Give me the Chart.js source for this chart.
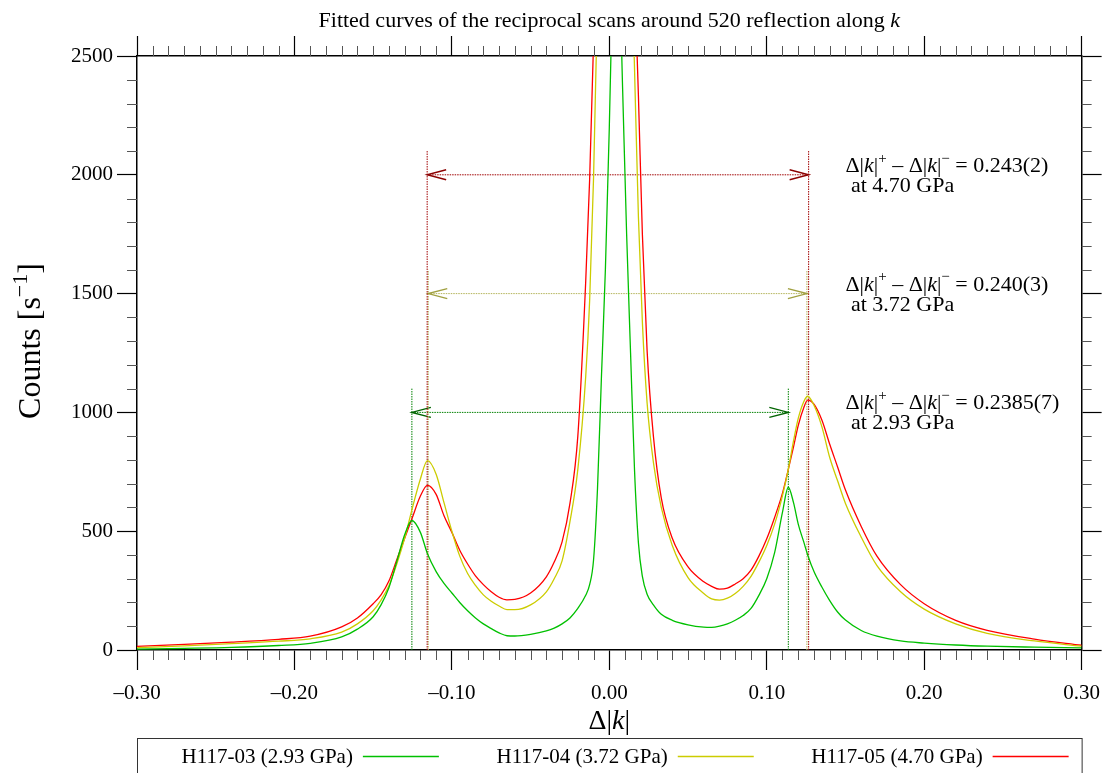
<!DOCTYPE html>
<html>
<head>
<meta charset="utf-8">
<script src="https://cdn.jsdelivr.net/npm/chart.js@4.4.0/dist/chart.umd.min.js"></script>
<style>
  html, body { margin: 0; padding: 0; background: #fff; }
</style>
</head>
<body>
<canvas id="scanChart" width="1111" height="773"></canvas>
<script>
let deltaK = [
  -0.30, -0.27, -0.24, -0.21, -0.19, -0.17, -0.16, -0.15, -0.145, -0.14,
  -0.135, -0.13, -0.1254, -0.12, -0.1155, -0.11, -0.105, -0.10, -0.095, -0.09,
  -0.085, -0.08, -0.075, -0.07, -0.065, -0.06, -0.05, -0.04, -0.035, -0.03,
  -0.025, -0.02, -0.015, -0.0125, -0.01, -0.0075, -0.005, -0.0025, 0.0, 0.0025,
  0.004, 0.006, 0.0085, 0.011, 0.0135, 0.016, 0.0185, 0.021, 0.024, 0.028,
  0.033, 0.04, 0.05, 0.06, 0.065, 0.07, 0.075, 0.08, 0.085, 0.09,
  0.095, 0.10, 0.105, 0.11, 0.1137, 0.117, 0.12, 0.1235, 0.126, 0.13,
  0.135, 0.14, 0.145, 0.15, 0.16, 0.17, 0.185, 0.20, 0.22, 0.24,
  0.27, 0.30
];

// counts per second, H117-03 (2.93 GPa)
let countsGreen = [
  4, 7, 11, 19, 28, 55, 88, 140, 190, 262,
  372, 485, 545, 495, 405, 330, 280, 240, 200, 165,
  135, 110, 90, 72, 60, 59, 66, 80, 92, 110,
  135, 175, 230, 275, 380, 680, 1150, 1600, 2200, 2900,
  3050, 2950, 2350, 1750, 1250, 760, 450, 310, 235, 190,
  150, 125, 106, 96, 95, 100, 110, 125, 145, 175,
  230, 300, 410, 580, 685, 620, 530, 455, 400, 330,
  265, 208, 160, 126, 82, 58, 38, 29, 21, 16,
  12, 9
];

// H117-04 (3.72 GPa)
let countsYellow = [
  10, 17, 27, 37, 47, 75, 110, 165, 210, 270,
  362, 470, 590, 720, 797, 740, 620, 500, 395, 322,
  272, 232, 205, 185, 170, 170, 190, 245, 300, 375,
  540, 760, 1150, 1470, 1990, 2750, 3500, 4300, 5000, 5400,
  5500, 5400, 4800, 3900, 3100, 2450, 1820, 1380, 1040, 790,
  600, 440, 305, 238, 215, 210, 218, 238, 268, 310,
  370, 440, 530, 650, 760, 880, 975, 1045, 1068, 1030,
  940, 810, 712, 617, 475, 355, 245, 172, 110, 70,
  38, 16
];

// H117-05 (4.70 GPa)
let countsRed = [
  15, 24, 33, 45, 58, 97, 135, 195, 232, 290,
  380, 470, 552, 648, 693, 655, 565, 495, 420, 362,
  312, 275, 245, 222, 211, 213, 240, 308, 370, 455,
  617, 900, 1550, 1980, 2560, 3300, 4000, 4600, 5000, 5200,
  5250, 5200, 4900, 4300, 3500, 2850, 2330, 1750, 1260, 900,
  640, 470, 350, 287, 268, 256, 260, 278, 300, 336,
  395, 468, 558, 660, 760, 855, 945, 1020, 1052, 1035,
  968, 866, 770, 673, 520, 395, 275, 195, 125, 83,
  46, 20
];

let seriesNames = ["H117-03 (2.93 GPa)", "H117-04 (3.72 GPa)", "H117-05 (4.70 GPa)"];
let pressures = ["2.93", "3.72", "4.70"];
let splitting = ["0.2385(7)", "0.240(3)", "0.243(2)"];

// satellite peak positions and the marker / arrow heights
let peakMinus = [-0.1254, -0.1150, -0.1157];
let peakPlus = [0.1137, 0.1255, 0.1266];
let markerTop = [1100, 1600, 2100];
let arrowLevel = [1000, 1500, 2000];
let labelX = 0.150;

let xTickValues = [-0.30, -0.20, -0.10, 0.00, 0.10, 0.20, 0.30];
let yTickValues = [0, 500, 1000, 1500, 2000, 2500];

let lineColors = ["#00c000", "#cccc00", "#ff0000"];
let markerColors = ["#008000", "#b4b45a", "#a00000"];
let headColors = ["#006400", "#a0a040", "#8b0000"];

const SERIF = "'Liberation Serif', 'Times New Roman', serif";

function toPoints(ys) {
  return deltaK.map((x, i) => ({ x: x, y: ys[i] }));
}

function fmtTick(v) {
  if (Math.abs(v) < 1e-9) return "0.00";
  let s = Math.abs(v).toFixed(2);
  return v < 0 ? "\u2013" + s : s;
}

// draws a row of text pieces (italic / superscript) in one go
function drawRich(ctx, parts, x, y, size, align) {
  let widths = parts.map((p) => {
    ctx.font = partFont(p, size);
    return ctx.measureText(p.t).width;
  });
  let total = widths.reduce((a, b) => a + b, 0);
  let cx = align === "center" ? x - total / 2 : x;
  ctx.textAlign = "left";
  ctx.textBaseline = "alphabetic";
  parts.forEach((p, i) => {
    ctx.font = partFont(p, size);
    ctx.fillText(p.t, cx, p.sup ? y - size * 0.42 : y);
    cx += widths[i];
  });
}

function partFont(p, size) {
  let s = p.sup ? Math.round(size * 0.68) : size;
  return (p.it ? "italic " : "") + s + "px " + SERIF;
}

let textPlugin = {
  id: "textPlugin",
  afterDraw(chart) {
    let ctx = chart.ctx;
    let xs = chart.scales.x;
    let ys = chart.scales.y;
    ctx.save();
    ctx.fillStyle = "#000";

    // title
    drawRich(ctx, [
      { t: "Fitted curves of the reciprocal scans around 520 reflection along " },
      { t: "k", it: true }
    ], (xs.left + xs.right) / 2, 27, 22, "center");

    // axis titles
    drawRich(ctx, [{ t: "\u0394|" }, { t: "k", it: true }, { t: "|" }],
      (xs.left + xs.right) / 2, 729, 28, "center");

    ctx.save();
    ctx.translate(40, 341);
    ctx.rotate(-Math.PI / 2);
    drawRich(ctx, [{ t: "Counts [s" }, { t: "\u2212", sup: true }, { t: "1", sup: true }, { t: "]" }],
      0, 0, 32, "center");
    ctx.restore();

    // splitting labels
    for (let i = 0; i < 3; i++) {
      let px = xs.getPixelForValue(labelX);
      let py = ys.getPixelForValue(arrowLevel[i]);
      drawRich(ctx, [
        { t: "\u0394|" }, { t: "k", it: true }, { t: "|" }, { t: "+", sup: true },
        { t: " \u2013 \u0394|" }, { t: "k", it: true }, { t: "|" }, { t: "\u2212", sup: true },
        { t: " = " + splitting[i] }
      ], px, py - 3, 22, "left");
      drawRich(ctx, [{ t: " at " + pressures[i] + " GPa" }], px, py + 17, 22, "left");
    }

    // legend box under the plot
    let boxTop = 738;
    ctx.strokeStyle = "#333";
    ctx.lineWidth = 1;
    ctx.strokeRect(xs.left + 0.5, boxTop + 0.5, xs.right - xs.left, 60);
    let slot = (xs.right - xs.left) / 3;
    for (let i = 0; i < 3; i++) {
      let lineEnd = xs.left + slot * (i + 1) - 13;
      let lineStart = lineEnd - 76;
      ctx.font = "21px " + SERIF;
      ctx.textAlign = "right";
      ctx.textBaseline = "alphabetic";
      ctx.fillText(seriesNames[i], lineStart - 10, boxTop + 25);
      ctx.strokeStyle = lineColors[i];
      ctx.lineWidth = 1.3;
      ctx.beginPath();
      ctx.moveTo(lineStart, boxTop + 18.5);
      ctx.lineTo(lineEnd, boxTop + 18.5);
      ctx.stroke();
    }
    ctx.restore();
  }
};

// dotted peak markers with double-headed arrows
let markerPlugin = {
  id: "markerPlugin",
  beforeDatasetsDraw(chart) {
    let ctx = chart.ctx;
    let xs = chart.scales.x;
    let ys = chart.scales.y;
    ctx.save();
    for (let i = 0; i < 3; i++) {
      let xl = xs.getPixelForValue(peakMinus[i]);
      let xr = xs.getPixelForValue(peakPlus[i]);
      let y0 = ys.getPixelForValue(0);
      let yt = ys.getPixelForValue(markerTop[i]);
      let ya = ys.getPixelForValue(arrowLevel[i]);

      ctx.strokeStyle = markerColors[i];
      ctx.lineWidth = 1;
      ctx.setLineDash([1.5, 1]);
      ctx.beginPath();
      ctx.moveTo(xl, y0);
      ctx.lineTo(xl, yt);
      ctx.moveTo(xr, y0);
      ctx.lineTo(xr, yt);
      ctx.moveTo(xl, ya);
      ctx.lineTo(xr, ya);
      ctx.stroke();

      ctx.setLineDash([]);
      ctx.strokeStyle = headColors[i];
      ctx.lineWidth = 1.4;
      ctx.beginPath();
      ctx.moveTo(xl + 19, ya - 5);
      ctx.lineTo(xl, ya);
      ctx.lineTo(xl + 19, ya + 5);
      ctx.moveTo(xr - 19, ya - 5);
      ctx.lineTo(xr, ya);
      ctx.lineTo(xr - 19, ya + 5);
      ctx.stroke();
    }
    ctx.restore();
  }
};

// small ticks every 0.01 and every 100 counts on all four sides
let minorTickPlugin = {
  id: "minorTickPlugin",
  afterDraw(chart) {
    let ctx = chart.ctx;
    let xs = chart.scales.x;
    let ys = chart.scales.y;
    ctx.save();
    ctx.strokeStyle = "#555";
    ctx.lineWidth = 1;
    ctx.beginPath();
    for (let i = -30; i <= 30; i++) {
      if (i % 10 === 0) continue;
      let px = Math.round(xs.getPixelForValue(i / 100)) + 0.5;
      ctx.moveTo(px, ys.bottom);
      ctx.lineTo(px, ys.bottom + 10);
      ctx.moveTo(px, ys.top);
      ctx.lineTo(px, ys.top - 10);
    }
    for (let j = 0; j <= 25; j++) {
      if (j % 5 === 0) continue;
      let py = Math.round(ys.getPixelForValue(j * 100)) + 0.5;
      ctx.moveTo(xs.left, py);
      ctx.lineTo(xs.left - 10, py);
      ctx.moveTo(xs.right, py);
      ctx.lineTo(xs.right + 10, py);
    }
    ctx.stroke();
    ctx.restore();
  }
};

let majorGrid = {
  drawOnChartArea: false,
  tickLength: 20,
  tickColor: "#000",
  tickWidth: 1.2,
};
let frame = { color: "#000", width: 1.5 };

let ctx = document.getElementById("scanChart").getContext("2d");

let scanChart = new Chart(ctx, {
  type: "line",
  data: {
    datasets: [countsGreen, countsYellow, countsRed].map((ys, i) => ({
      label: seriesNames[i],
      data: toPoints(ys),
      borderColor: lineColors[i],
      backgroundColor: lineColors[i],
      borderWidth: 1.3,
      pointRadius: 0,
      fill: false,
      cubicInterpolationMode: "monotone",
      xAxisID: "x",
      yAxisID: "y",
    })),
  },
  options: {
    responsive: false,
    animation: false,
    layout: { padding: { top: 36, right: 8, left: 0, bottom: 0 } },
    plugins: {
      legend: { display: false },
      tooltip: { enabled: false },
    },
    scales: {
      x: {
        type: "linear",
        position: "bottom",
        min: -0.3,
        max: 0.3,
        afterBuildTicks: (s) => { s.ticks = xTickValues.map((v) => ({ value: v })); },
        ticks: {
          autoSkip: false,
          maxRotation: 0,
          padding: 11,
          color: "#000",
          font: { family: SERIF, size: 21 },
          callback: (v) => fmtTick(v),
        },
        grid: majorGrid,
        border: frame,
        afterFit: (s) => { s.height = 123; },
      },
      xTop: {
        type: "linear",
        position: "top",
        min: -0.3,
        max: 0.3,
        afterBuildTicks: (s) => { s.ticks = xTickValues.map((v) => ({ value: v })); },
        ticks: { display: false },
        grid: majorGrid,
        border: frame,
        afterFit: (s) => { s.height = 20; },
      },
      y: {
        type: "linear",
        position: "left",
        min: 0,
        max: 2500,
        afterBuildTicks: (s) => { s.ticks = yTickValues.map((v) => ({ value: v })); },
        ticks: {
          padding: 4,
          color: "#000",
          font: { family: SERIF, size: 21 },
          callback: (v) => String(Math.round(v)),
        },
        grid: majorGrid,
        border: frame,
        afterFit: (s) => { s.width = 137; },
      },
      yRight: {
        type: "linear",
        position: "right",
        min: 0,
        max: 2500,
        afterBuildTicks: (s) => { s.ticks = yTickValues.map((v) => ({ value: v })); },
        ticks: { display: false },
        grid: majorGrid,
        border: frame,
        afterFit: (s) => { s.width = 20; },
      },
    },
  },
  plugins: [markerPlugin, minorTickPlugin, textPlugin],
});
</script>
</body>
</html>
